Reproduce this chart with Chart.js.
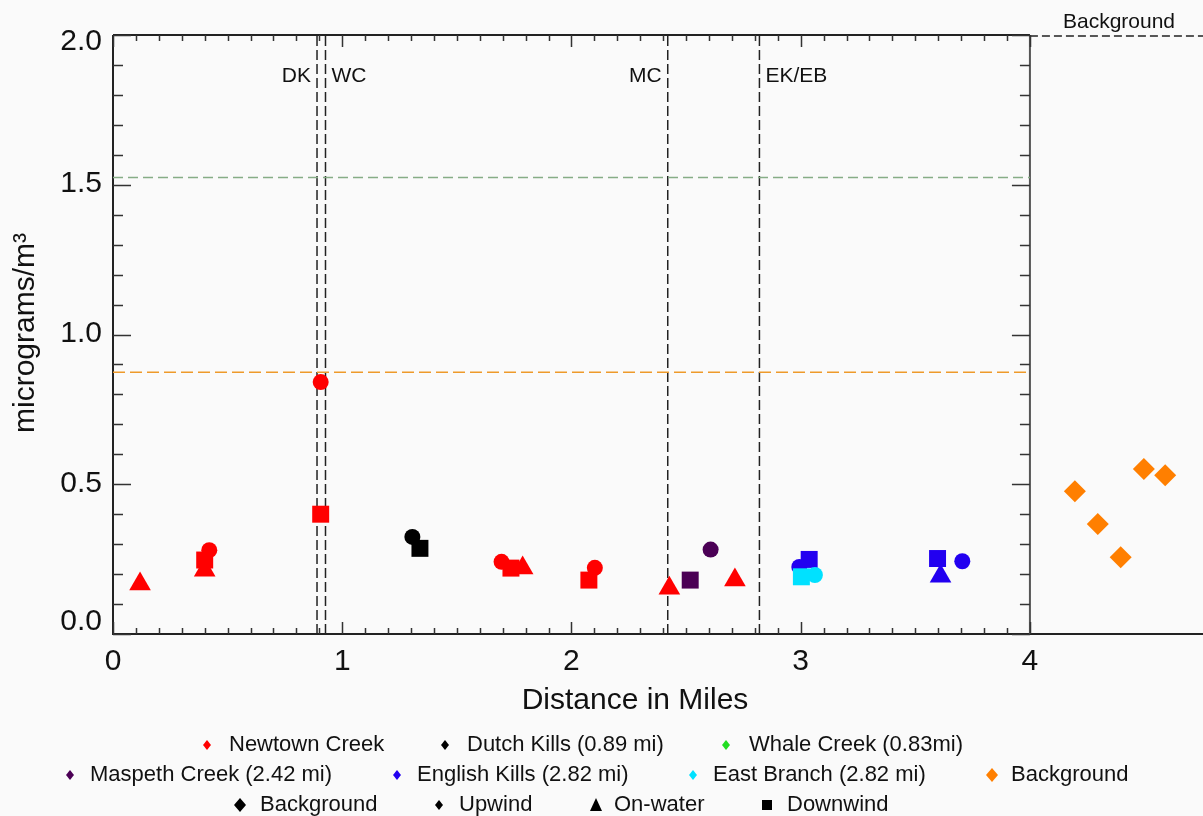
<!DOCTYPE html>
<html>
<head>
<meta charset="utf-8">
<script src="https://cdn.jsdelivr.net/npm/chart.js@4/dist/chart.umd.min.js"></script>
<style>
  html, body { margin: 0; padding: 0; background: #fafafa; overflow: hidden; }
  #wrap { width: 1203px; height: 816px; overflow: hidden; }
  canvas { display: block; width: 1203px; height: 816px; }
</style>
</head>
<body>
<div id="wrap"><canvas id="chart" width="1203" height="816"></canvas></div>
<script>
const FONT = "'Liberation Sans', Arial, sans-serif";
const INK = "#111";

// x axis runs past 4 mi so the background samples sit in their own panel
const X_MAX = 4.755;
const xTickValues = [0, 1, 2, 3, 4];
const yTickValues = [0, 0.5, 1.0, 1.5, 2.0];
const yTickLabels = ["0.0", "0.5", "1.0", "1.5", "2.0"];

// creek mouths (vertical dashed lines) and their labels
const mouthMiles = [0.89, 0.927, 2.42, 2.82];
const mouthLabels = ["DK", "WC", "MC", "EK/EB"];

// horizontal reference levels
const greenLevel = 1.524;
const orangeLevel = 0.874;

// Newtown Creek
const ncUpX = [0.42, 0.906, 1.695, 2.102];
const ncUpY = [0.28, 0.841, 0.241, 0.221];
const ncWaterX = [0.118, 0.40, 1.787, 2.427, 2.713];
const ncWaterY = [0.167, 0.213, 0.22, 0.153, 0.18];
const ncDownX = [0.40, 0.906, 1.736, 2.076];
const ncDownY = [0.247, 0.40, 0.22, 0.18];

// Dutch Kills
const dkUpX = [1.306];
const dkUpY = [0.324];
const dkDownX = [1.339];
const dkDownY = [0.286];

// Maspeth Creek
const mcUpX = [2.607];
const mcUpY = [0.282];
const mcDownX = [2.518];
const mcDownY = [0.18];

// English Kills
const ekUpX = [2.994, 3.705];
const ekUpY = [0.224, 0.243];
const ekWaterX = [3.61];
const ekWaterY = [0.193];
const ekDownX = [3.037, 3.597];
const ekDownY = [0.249, 0.252];

// East Branch
const ebUpX = [3.062];
const ebUpY = [0.197];
const ebDownX = [3.003];
const ebDownY = [0.191];

// Background
const bgX = [4.196, 4.296, 4.396, 4.497, 4.59];
const bgY = [0.477, 0.367, 0.256, 0.551, 0.53];

const legendLabels = [
  "Newtown Creek", "Dutch Kills (0.89 mi)", "Whale Creek (0.83mi)",
  "Maspeth Creek (2.42 mi)", "English Kills (2.82 mi)", "East Branch (2.82 mi)", "Background",
  "Background", "Upwind", "On-water", "Downwind",
];
const legendColors = [
  "#ff0000", "#000000", "#22dd22",
  "#4b0055", "#2200f0", "#00e1ff", "#ff7f00",
  "#000000", "#000000", "#000000", "#000000",
];
const legendShapes = [
  "diamond", "diamond", "diamond",
  "diamond", "diamond", "diamond", "bigDiamond",
  "bigDiamond", "diamond", "triangle", "square",
];
// marker x, text x, row y for each legend entry
const legendPos = [
  [207, 229, 745], [445, 467, 745], [726, 749, 745],
  [70, 90, 775], [397, 417, 775], [693, 713, 775], [992, 1011, 775],
  [240, 260, 805], [439, 459, 805], [596, 614, 805], [767, 787, 805],
];

const COLORS = {
  nc: "#ff0000", dk: "#000000", mc: "#4b0055", ek: "#2200f0", eb: "#00e1ff", bg: "#ff7f00",
};

function pts(xs, ys) {
  return xs.map((x, i) => ({ x, y: ys[i] }));
}

function markers(xs, ys, color, style, radius) {
  return {
    data: pts(xs, ys),
    backgroundColor: color,
    borderColor: color,
    borderWidth: 0,
    pointStyle: style,
    pointRadius: radius,
    pointHoverRadius: radius,
  };
}

function refLine(xs, ys, color, dash) {
  return {
    data: pts(xs, ys),
    showLine: true,
    borderColor: color,
    borderWidth: 1.5,
    borderDash: dash,
    pointRadius: 0,
    pointHoverRadius: 0,
    fill: false,
  };
}

// first dataset is painted on top
const datasets = [
  markers(ebDownX, ebDownY, COLORS.eb, "rect", 12),
  markers(ebUpX, ebUpY, COLORS.eb, "circle", 8),
  markers(ekUpX, ekUpY, COLORS.ek, "circle", 8),
  markers(ekWaterX, ekWaterY, COLORS.ek, "triangle", 12.5),
  markers(ekDownX, ekDownY, COLORS.ek, "rect", 12),
  markers(mcUpX, mcUpY, COLORS.mc, "circle", 8),
  markers(mcDownX, mcDownY, COLORS.mc, "rect", 12),
  markers(dkUpX, dkUpY, COLORS.dk, "circle", 8),
  markers(dkDownX, dkDownY, COLORS.dk, "rect", 12),
  markers(ncUpX, ncUpY, COLORS.nc, "circle", 8),
  markers(ncWaterX, ncWaterY, COLORS.nc, "triangle", 12.5),
  markers(ncDownX, ncDownY, COLORS.nc, "rect", 12),
  markers(bgX, bgY, COLORS.bg, "rectRot", 11),
  refLine([0, 4], [greenLevel, greenLevel], "#86ad86", [10, 5]),
  refLine([0, 4], [orangeLevel, orangeLevel], "#ee9a2a", [12, 5]),
  ...mouthMiles.map(m => refLine([m, m], [0, 2], "#222", [10, 4])),
];

function legendShape(ctx, kind, x, y, color) {
  ctx.fillStyle = color;
  ctx.beginPath();
  if (kind === "diamond") {
    ctx.moveTo(x, y - 5); ctx.lineTo(x + 4, y); ctx.lineTo(x, y + 5); ctx.lineTo(x - 4, y);
  } else if (kind === "bigDiamond") {
    ctx.moveTo(x, y - 7); ctx.lineTo(x + 6, y); ctx.lineTo(x, y + 7); ctx.lineTo(x - 6, y);
  } else if (kind === "triangle") {
    ctx.moveTo(x, y - 7); ctx.lineTo(x + 6, y + 6); ctx.lineTo(x - 6, y + 6);
  } else {
    ctx.rect(x - 5, y - 5, 10, 10);
  }
  ctx.closePath();
  ctx.fill();
}

const framePlugin = {
  id: "frame",
  beforeDatasetsDraw(chart) {
    const { ctx, chartArea: a, scales: { x, y } } = chart;
    const x4 = x.getPixelForValue(4);
    ctx.save();
    ctx.strokeStyle = "#222";
    ctx.lineWidth = 2;
    ctx.beginPath();
    ctx.moveTo(a.left, a.top); ctx.lineTo(a.left, a.bottom); ctx.lineTo(a.right, a.bottom);
    ctx.moveTo(a.left, a.top); ctx.lineTo(x4, a.top);
    ctx.stroke();
    ctx.strokeStyle = "#555";
    ctx.beginPath();
    ctx.moveTo(x4, a.top); ctx.lineTo(x4, a.bottom);
    ctx.stroke();
    // dashed top edge over the background panel
    ctx.strokeStyle = "#222";
    ctx.lineWidth = 1.5;
    ctx.setLineDash([8, 4]);
    ctx.beginPath();
    ctx.moveTo(x4, a.top + 1); ctx.lineTo(a.right, a.top + 1);
    ctx.stroke();
    ctx.setLineDash([]);

    // inward ticks, every 0.1
    ctx.strokeStyle = "#333";
    ctx.lineWidth = 1.5;
    ctx.beginPath();
    for (let i = 0; i <= 40; i++) {
      const px = Math.round(x.getPixelForValue(i / 10)) + 0.5;
      const len = i % 10 === 0 ? 12 : 6;
      ctx.moveTo(px, a.bottom); ctx.lineTo(px, a.bottom - len);
      ctx.moveTo(px, a.top); ctx.lineTo(px, a.top + len);
    }
    for (let j = 0; j <= 20; j++) {
      const py = Math.round(y.getPixelForValue(j / 10)) + 0.5;
      const len = j % 5 === 0 ? 18 : 10;
      ctx.moveTo(a.left, py); ctx.lineTo(a.left + len, py);
      ctx.moveTo(x4, py); ctx.lineTo(x4 - len, py);
    }
    ctx.stroke();
    ctx.restore();
  },
  afterDraw(chart) {
    const { ctx, scales: { x, y } } = chart;
    ctx.save();
    ctx.fillStyle = INK;

    // tick labels
    ctx.font = `30px ${FONT}`;
    ctx.textAlign = "center";
    ctx.textBaseline = "middle";
    xTickValues.forEach(v => ctx.fillText(String(v), x.getPixelForValue(v), 662));
    ctx.textAlign = "right";
    yTickValues.forEach((v, i) => {
      let py = y.getPixelForValue(v) - 1;
      if (i === 0) py -= 11;
      if (i === yTickValues.length - 1) py += 8;
      ctx.fillText(yTickLabels[i], 102, py);
    });

    // axis titles
    ctx.textAlign = "center";
    ctx.fillText("Distance in Miles", 635, 701);
    ctx.save();
    ctx.translate(26, 333);
    ctx.rotate(-Math.PI / 2);
    ctx.fillText("micrograms/m\u00b3", 0, 0);
    ctx.restore();

    // creek labels
    ctx.font = `21px ${FONT}`;
    mouthLabels.forEach((lab, i) => {
      const px = x.getPixelForValue(mouthMiles[i]);
      const leftSide = lab === "DK" || lab === "MC";
      ctx.textAlign = leftSide ? "right" : "left";
      ctx.fillText(lab, leftSide ? px - 6 : px + 6, 76);
    });
    ctx.textAlign = "center";
    ctx.fillText("Background", 1119, 22);

    // legend
    ctx.font = `22px ${FONT}`;
    ctx.textAlign = "left";
    legendLabels.forEach((lab, i) => {
      const [mx, tx, ty] = legendPos[i];
      legendShape(ctx, legendShapes[i], mx, ty, legendColors[i]);
      ctx.fillStyle = INK;
      ctx.fillText(lab, tx, ty);
    });
    ctx.restore();
  },
};

new Chart(document.getElementById("chart"), {
  type: "scatter",
  data: { datasets },
  options: {
    responsive: false,
    animation: false,
    events: [],
    layout: { autoPadding: false, padding: { left: 113, right: 0, top: 35, bottom: 182 } },
    scales: {
      x: { type: "linear", min: 0, max: X_MAX, display: false },
      y: { type: "linear", min: 0, max: 2, display: false },
    },
    plugins: { legend: { display: false }, tooltip: { enabled: false } },
  },
  plugins: [framePlugin],
});
</script>
</body>
</html>
